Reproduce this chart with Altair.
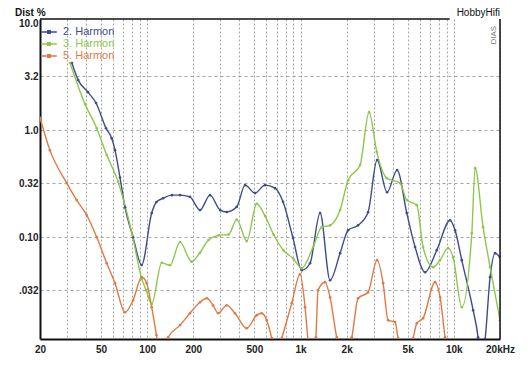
import altair as alt
import pandas as pd

# ---- data ----
series_names = ["2. Harmon", "3. Harmon", "5. Harmon"]
series_colors = ["#3d4b8f", "#8ec74a", "#e07a45"]

blue_hz = [32.3, 35.5, 41.1, 46.4, 53.9, 58.7, 61.7, 66.5, 71.7, 80.9,
           92.1, 107, 115, 127, 145, 164, 190, 221, 257, 299,
           330, 384, 435, 505, 587, 682, 769, 894, 1019, 1154,
           1342, 1559, 1812, 2043, 2374, 2758, 3158, 3670, 4266, 4932,
           5587, 6491, 7740, 9453, 10190, 11265, 13357, 14390, 14900, 15990,
           17236, 18583, 20000]
blue_pct = [4.23, 2.93, 2.26, 1.79, 1.04, 0.84, 0.65, 0.36, 0.19, 0.10,
            0.055, 0.168, 0.213, 0.231, 0.247, 0.247, 0.238, 0.179, 0.247, 0.179,
            0.172, 0.192, 0.306, 0.258, 0.306, 0.287, 0.214, 0.098, 0.0492, 0.0571,
            0.168, 0.0396, 0.0709, 0.116, 0.129, 0.171, 0.525, 0.263, 0.423, 0.168,
            0.081, 0.0471, 0.0756, 0.144, 0.116, 0.061, 0.0208, 0.0116, 0.007, 0.0112,
            0.0423, 0.0709, 0.065]

green_hz = [31.4, 39.3, 46.9, 54.5, 64.6, 80.1, 92.1, 98.5, 107, 124.4,
            140.9, 163.7, 195.2, 221, 251, 293, 340, 384, 446, 518,
            587, 667, 773, 898, 1019, 1208, 1376, 1559, 1812, 2043,
            2447, 2800, 3144, 3653, 4459, 4932, 5734, 6300, 7322, 8134,
            9172, 9889, 11265, 13098, 13766, 15517, 17236, 20000]
green_pct = [4.23, 1.75, 1.04, 0.584, 0.33, 0.104, 0.041, 0.032, 0.0238, 0.0576,
             0.0547, 0.090, 0.059, 0.0715, 0.094, 0.104, 0.106, 0.146, 0.092, 0.205,
             0.158, 0.106, 0.0756, 0.063, 0.0513, 0.081, 0.124, 0.129, 0.179, 0.341,
             0.471, 1.47, 0.623, 0.356, 0.32, 0.222, 0.199, 0.081, 0.0525, 0.061,
             0.079, 0.065, 0.0222, 0.109, 0.441, 0.124, 0.0525, 0.0168]

orange_hz = [20, 23.2, 29.9, 34.7, 40.3, 46.9, 54.5, 61.7, 71.7, 80.9,
             92.1, 99.3, 107, 115, 121, 128, 137, 164, 190, 221,
             245, 269, 290, 330, 374, 446, 518, 559, 602, 650,
             700, 755, 877, 993, 1071, 1120, 1190, 1258, 1302, 1445,
             1559, 1724, 1900, 2159, 2374, 2758, 3158, 3457, 3725, 4139,
             4330, 4800, 5420, 5734, 6300, 7547, 8134, 8770, 9170]
orange_pct = [1.3, 0.65, 0.32, 0.222, 0.161, 0.100, 0.057, 0.0372, 0.0199, 0.0258,
              0.0423, 0.0372, 0.0222, 0.0122, 0.008, 0.007, 0.0116, 0.0151, 0.0195, 0.0247,
              0.0269, 0.0231, 0.0195, 0.0231, 0.0195, 0.0141, 0.0187, 0.0195, 0.0168, 0.0114,
              0.008, 0.0114, 0.0242, 0.045, 0.0222, 0.011, 0.008, 0.0116, 0.032, 0.038,
              0.0275, 0.0116, 0.008, 0.0116, 0.0269, 0.0306, 0.061, 0.0372, 0.0168, 0.0161,
              0.0114, 0.008, 0.0114, 0.0157, 0.0175, 0.038, 0.0275, 0.0116, 0.008]

x_grid = [20, 30, 40, 50, 60, 70, 80, 90,
          100, 200, 300, 400, 500, 600, 700, 800, 900,
          1000, 2000, 3000, 4000, 5000, 6000, 7000, 8000, 9000,
          10000, 20000]
x_label_values = [20, 50, 100, 200, 500, 1000, 2000, 5000, 10000, 20000]
x_label_texts = ["20", "50", "100", "200", "500", "1k", "2k", "5k", "10k", "20kHz"]

y_label_values = [0.032, 0.1, 0.32, 1.0, 3.2, 10.0]
y_label_texts = [".032", "0.10", "0.32", "1.0", "3.2", "10.0"]

x_domain = [20, 20000]
y_domain = [0.0112, 10.9]

# ---- build table ----
rows = []
for name, hz, pct in zip(series_names, [blue_hz, green_hz, orange_hz],
                         [blue_pct, green_pct, orange_pct]):
    rows += [{"series": name, "hz": h, "pct": p} for h, p in zip(hz, pct)]
df = pd.DataFrame(rows)

def build_expr(vals, texts):
    parts = [f"datum.value == {v} ? '{t}'" for v, t in zip(vals, texts)]
    return " : ".join(parts) + " : ''"

FONT = "Liberation Sans"

x_scale = alt.Scale(type="log", domain=x_domain, nice=False)
y_scale = alt.Scale(type="log", domain=y_domain, nice=False)

x_axis = alt.Axis(values=x_grid, labelExpr=build_expr(x_label_values, x_label_texts),
                  grid=True, gridDash=[2, 2], gridColor="#8f8f8f", gridWidth=0.8,
                  ticks=False, domainColor="#111", domainWidth=2,
                  labelFont=FONT, labelFontSize=10, labelFontWeight="bold",
                  labelColor="#222", labelPadding=5, labelOverlap=False,
                  labelFlush=False, title=None)
y_axis = alt.Axis(values=y_label_values, labelExpr=build_expr(y_label_values, y_label_texts),
                  grid=True, gridDash=[3, 3], gridColor="#8f8f8f", gridWidth=0.8,
                  gridOpacity={"condition": {"test": "datum.value > 9", "value": 0}, "value": 1},
                  ticks=False, domainColor="#111", domainWidth=2,
                  labelFont=FONT, labelFontSize=10, labelFontWeight="bold",
                  labelColor="#222", labelPadding=2, labelOverlap=False,
                  labelFlush=False, title=None)

color_expr = ("datum.label == '2. Harmon' ? '#3d4b8f' : "
              "datum.label == '3. Harmon' ? '#8ec74a' : '#e07a45'")

legend = alt.Legend(title=None, orient="none", legendX=2, legendY=6,
                    symbolType="M-1.3,0L1.3,0M-0.2,-0.2L0.2,-0.2L0.2,0.2L-0.2,0.2Z",
                    symbolSize=144, symbolStrokeWidth=1.5,
                    labelFont=FONT, labelFontSize=11, labelOffset=7,
                    labelColor={"expr": color_expr}, rowPadding=-1, padding=0)

color = alt.Color("series:N", scale=alt.Scale(domain=series_names, range=series_colors),
                  legend=legend)

base = alt.Chart(df).encode(
    x=alt.X("hz:Q", scale=x_scale, axis=x_axis),
    y=alt.Y("pct:Q", scale=y_scale, axis=y_axis),
    color=color,
)
lines = base.mark_line(strokeWidth=1.4, interpolate="monotone", clip=True)
points = base.mark_point(filled=True, size=7, opacity=1, clip=True)

one = pd.DataFrame({"k": [0]})
top_rule = alt.Chart(one).mark_rule(color="#111", strokeWidth=1.5).encode(
    x=alt.datum(20), x2=alt.datum(9400), y=alt.datum(y_domain[1]))
right_rule = alt.Chart(one).mark_rule(color="#111", strokeWidth=1.5).encode(
    x=alt.datum(20000), y=alt.datum(y_domain[0]), y2=alt.datum(y_domain[1]))
brand = alt.Chart(one).mark_text(text="HobbyHifi", align="right", baseline="bottom",
                                 dy=-1, font=FONT, fontSize=10, color="#111").encode(
    x=alt.datum(20000), y=alt.datum(y_domain[1]))
ytitle = alt.Chart(one).mark_text(text="Dist %", align="left", baseline="bottom",
                                  dx=-25, dy=-1, font=FONT, fontSize=10,
                                  fontWeight="bold", color="#111").encode(
    x=alt.datum(20), y=alt.datum(y_domain[1]))
dias = alt.Chart(one).mark_text(text="DIAS", angle=270, align="center", baseline="middle",
                                font=FONT, fontSize=8, color="#777").encode(
    x=alt.datum(18300), y=alt.datum(7.7))

chart = alt.layer(lines, points, top_rule, right_rule, brand, ytitle, dias).properties(
    width=460, height=320,
    padding={"left": 32, "top": 11, "right": 20, "bottom": 22},
    autosize=alt.AutoSizeParams(type="none"),
    background="white",
).configure_view(stroke=None)

chart.save("out.html", embed_options={"renderer": "svg", "actions": False})
